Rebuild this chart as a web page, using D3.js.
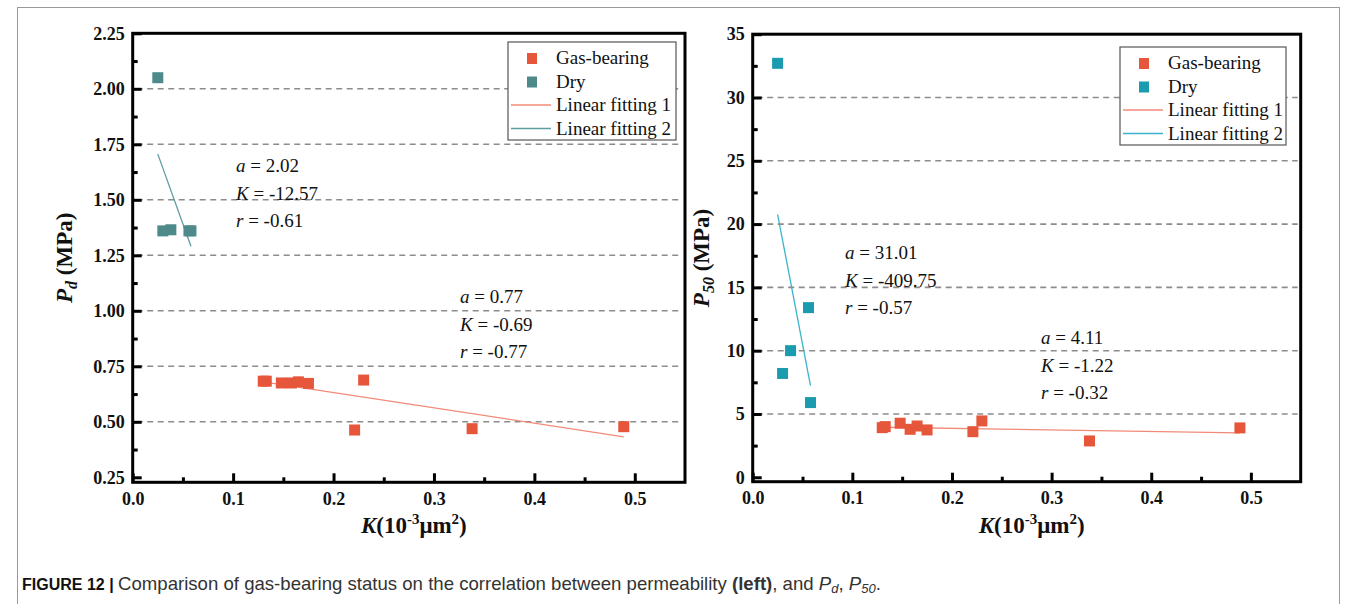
<!DOCTYPE html>
<html>
<head>
<meta charset="utf-8">
<script src="https://cdn.jsdelivr.net/npm/d3@7"></script>
<style>
  html, body { margin: 0; padding: 0; background: #fff; }
  svg { display: block; }
  .serif { font-family: "Liberation Serif", "Times New Roman", Times, serif; }
</style>
</head>
<body>
<svg id="chart" width="1356" height="604"></svg>
<script>
// ---------------- data ----------------
const kGas   = [0.130, 0.133, 0.148, 0.158, 0.165, 0.175, 0.221, 0.230, 0.338, 0.489];
const pdGas  = [0.683, 0.683, 0.675, 0.675, 0.680, 0.673, 0.463, 0.688, 0.469, 0.478];
const p50Gas = [3.92, 4.00, 4.27, 3.79, 4.05, 3.74, 3.60, 4.45, 2.87, 3.90];

const kDry   = [0.025, 0.030, 0.038, 0.056, 0.058];
const pdDry  = [2.05, 1.36, 1.365, 1.36, 1.36];
const p50Dry = [32.7, 8.2, 10.0, 13.4, 5.9];

const pdFit1  = { a: 0.77,  K: -0.69 };
const pdFit2  = { a: 2.02,  K: -12.57 };
const p50Fit1 = { a: 4.11,  K: -1.22 };
const p50Fit2 = { a: 31.01, K: -409.75 };

const pdTicks  = [0.25, 0.50, 0.75, 1.00, 1.25, 1.50, 1.75, 2.00, 2.25];
const p50Ticks = [0, 5, 10, 15, 20, 25, 30, 35];
const kTicks   = [0.0, 0.1, 0.2, 0.3, 0.4, 0.5];
const legendLabels = ["Gas-bearing", "Dry", "Linear fitting 1", "Linear fitting 2"];

// ---------------- drawing ----------------
const svg = d3.select("#chart");
const SERIF = "'Liberation Serif', 'Times New Roman', Times, serif";
const gasColor = "#e5563b";
const fit1Color = "#f28a78";

// outer figure border
svg.append("rect").attr("x", 17.5).attr("y", 7.5).attr("width", 1322).attr("height", 640)
  .attr("fill", "none").attr("stroke", "#9a9a9a").attr("stroke-width", 1);

function serifText(sel) {
  return sel.attr("class", "serif").style("font-family", SERIF);
}

function panel(cfg) {
  const x = d3.scaleLinear().domain([0, 0.55]).range([cfg.x0, cfg.x1]);
  const y = d3.scaleLinear().domain(cfg.yDomain).range([cfg.y0, cfg.y1]);
  const g = svg.append("g");

  // gridlines
  g.selectAll("line.grid").data(cfg.grid).enter().append("line")
    .attr("x1", cfg.x0 + 4).attr("x2", cfg.x1 - 3)
    .attr("y1", d => y(d)).attr("y2", d => y(d))
    .attr("stroke", "#8c8c8c").attr("stroke-width", 1.6).attr("stroke-dasharray", "6,4.5");

  // axes with inward ticks
  const yAxis = d3.axisLeft(y).tickValues(cfg.yTicks).tickFormat(cfg.yFmt)
    .tickSizeInner(-9).tickSizeOuter(0).tickPadding(8);
  const ya = g.append("g").attr("transform", `translate(${cfg.x0},0)`).call(yAxis);
  const yMinor = d3.axisLeft(y).tickValues(d3.pairs(cfg.yTicks).map(p => (p[0] + p[1]) / 2))
    .tickSizeInner(-5).tickSizeOuter(0).tickFormat("");
  const ym = g.append("g").attr("transform", `translate(${cfg.x0},0)`).call(yMinor);

  const xAxis = d3.axisBottom(x).tickValues(kTicks).tickFormat(d3.format(".1f"))
    .tickSizeInner(-9).tickSizeOuter(0).tickPadding(10);
  const xa = g.append("g").attr("transform", `translate(0,${cfg.y0})`).call(xAxis);
  const xMinor = d3.axisBottom(x).tickValues(d3.pairs(kTicks).map(p => (p[0] + p[1]) / 2))
    .tickSizeInner(-5).tickSizeOuter(0).tickFormat("");
  const xm = g.append("g").attr("transform", `translate(0,${cfg.y0})`).call(xMinor);

  [ya, ym, xa, xm].forEach(a => {
    a.attr("font-family", SERIF);
    a.select(".domain").remove();
    a.selectAll(".tick line").attr("stroke", "#000").attr("stroke-width", 3);
    serifText(a.selectAll("text")).attr("font-weight", "bold")
      .attr("font-size", 18).attr("fill", "#111");
  });

  // frame
  g.append("rect").attr("x", cfg.x0).attr("y", cfg.y1)
    .attr("width", cfg.x1 - cfg.x0).attr("height", cfg.y0 - cfg.y1)
    .attr("fill", "none").attr("stroke", "#000").attr("stroke-width", 3);

  // fit lines
  const fitLine = (f, xs, color) => {
    const e = d3.extent(xs);
    g.append("line")
      .attr("x1", x(e[0])).attr("y1", y(f.a + f.K * e[0]))
      .attr("x2", x(e[1])).attr("y2", y(f.a + f.K * e[1]))
      .attr("stroke", color).attr("stroke-width", 1.3);
  };
  fitLine(cfg.fit1, kGas, fit1Color);
  fitLine(cfg.fit2, kDry, cfg.fit2Color);

  // points
  const S = 11;
  g.selectAll("rect.gas").data(kGas.map((k, i) => [k, cfg.gas[i]])).enter().append("rect")
    .attr("x", d => x(d[0]) - S / 2).attr("y", d => y(d[1]) - S / 2)
    .attr("width", S).attr("height", S).attr("fill", gasColor);
  g.selectAll("rect.dry").data(kDry.map((k, i) => [k, cfg.dry[i]])).enter().append("rect")
    .attr("x", d => x(d[0]) - S / 2).attr("y", d => y(d[1]) - S / 2)
    .attr("width", S).attr("height", S).attr("fill", cfg.dryColor);

  // legend
  const L = cfg.legend;
  g.append("rect").attr("x", L.x).attr("y", L.y).attr("width", L.w).attr("height", L.h)
    .attr("fill", "#fff").attr("stroke", "#555").attr("stroke-width", 1.2);
  legendLabels.forEach((lab, i) => {
    const cy = L.y + 16 + i * L.step;
    if (i < 2) {
      g.append("rect").attr("x", L.mx - 5).attr("y", cy - 5).attr("width", 10).attr("height", 11)
        .attr("fill", i === 0 ? gasColor : cfg.dryColor);
    } else {
      g.append("line").attr("x1", L.x + 3).attr("x2", L.tx - 5).attr("y1", cy).attr("y2", cy)
        .attr("stroke", i === 2 ? fit1Color : cfg.fit2Color).attr("stroke-width", 1.5);
    }
    serifText(g.append("text")).attr("x", L.tx).attr("y", cy + 6).text(lab)
      .attr("font-size", 19).attr("fill", "#111");
  });

  // annotations
  cfg.notes.forEach(n => {
    const f = n.f;
    const lines = [["a", " = " + f.a.toFixed(2)], ["K", " = " + f.K.toFixed(2)], ["r", " = " + n.r.toFixed(2)]];
    lines.forEach((ln, i) => {
      const t = serifText(g.append("text")).attr("x", n.x).attr("y", n.y + i * 27.5)
        .attr("font-size", 19).attr("fill", "#111");
      t.append("tspan").attr("font-style", "italic").text(ln[0]);
      t.append("tspan").text(ln[1]);
    });
  });

  // y title
  const yt = serifText(g.append("text"))
    .attr("transform", `translate(${cfg.yTitleX},${(cfg.y0 + cfg.y1) / 2}) rotate(-90)`)
    .attr("text-anchor", "middle").attr("font-weight", "bold")
    .attr("font-size", 23).attr("fill", "#111");
  yt.append("tspan").attr("font-style", "italic").text("P");
  yt.append("tspan").attr("font-style", "italic").attr("font-size", 16).attr("dy", 5).text(cfg.sub);
  yt.append("tspan").attr("dy", -5).text(" (MPa)");

  // x title
  const xt = serifText(g.append("text")).attr("x", (cfg.x0 + cfg.x1) / 2 + 5).attr("y", cfg.y0 + 51)
    .attr("text-anchor", "middle").attr("font-weight", "bold")
    .attr("font-size", 23).attr("fill", "#111");
  xt.append("tspan").attr("font-style", "italic").text("K");
  xt.append("tspan").text("(10");
  xt.append("tspan").attr("font-size", 15).attr("dy", -9).text("-3");
  xt.append("tspan").attr("dy", 9).text("μm");
  xt.append("tspan").attr("font-size", 15).attr("dy", -9).text("2");
  xt.append("tspan").attr("dy", 9).text(")");
}

panel({
  x0: 132.7, x1: 685, y0: 482.3, y1: 33.3, yDomain: [0.2275, 2.25],
  yTicks: pdTicks, yFmt: d3.format(".2f"), grid: pdTicks.slice(1, -1),
  gas: pdGas, dry: pdDry, fit1: pdFit1, fit2: pdFit2,
  dryColor: "#4f8a8b", fit2Color: "#5f9ea0", sub: "d", yTitleX: 72,
  legend: { x: 508, y: 42, w: 168, h: 98, step: 23.5, mx: 532, tx: 556 },
  notes: [{ f: pdFit2, r: -0.61, x: 236, y: 172 }, { f: pdFit1, r: -0.77, x: 460, y: 303 }]
});

panel({
  x0: 752.7, x1: 1300.7, y0: 481.7, y1: 34.2, yDomain: [-0.35, 35],
  yTicks: p50Ticks, yFmt: d3.format("d"), grid: p50Ticks.slice(1, -1),
  gas: p50Gas, dry: p50Dry, fit1: p50Fit1, fit2: p50Fit2,
  dryColor: "#1a9bb0", fit2Color: "#3ab4cc", sub: "50", yTitleX: 709,
  legend: { x: 1120, y: 47, w: 166, h: 98, step: 23.5, mx: 1144, tx: 1168 },
  notes: [{ f: p50Fit2, r: -0.57, x: 845, y: 259 }, { f: p50Fit1, r: -0.32, x: 1041, y: 344 }]
});

// caption
const cap = svg.append("text").attr("x", 22).attr("y", 590)
  .attr("font-family", "'Liberation Sans', Arial, sans-serif").attr("font-size", 18.6).attr("fill", "#333");
cap.append("tspan").attr("font-weight", "bold").attr("fill", "#111").attr("font-size", 16).text("FIGURE 12 | ");
cap.append("tspan").text("Comparison of gas-bearing status on the correlation between permeability ");
cap.append("tspan").attr("font-weight", "bold").text("(left)");
cap.append("tspan").text(", and ");
cap.append("tspan").attr("font-style", "italic").text("P");
cap.append("tspan").attr("font-style", "italic").attr("font-size", 13).attr("dy", 3).text("d");
cap.append("tspan").attr("dy", -3).text(", ");
cap.append("tspan").attr("font-style", "italic").text("P");
cap.append("tspan").attr("font-style", "italic").attr("font-size", 13).attr("dy", 3).text("50");
cap.append("tspan").attr("dy", -3).text(".");
</script>
</body>
</html>
